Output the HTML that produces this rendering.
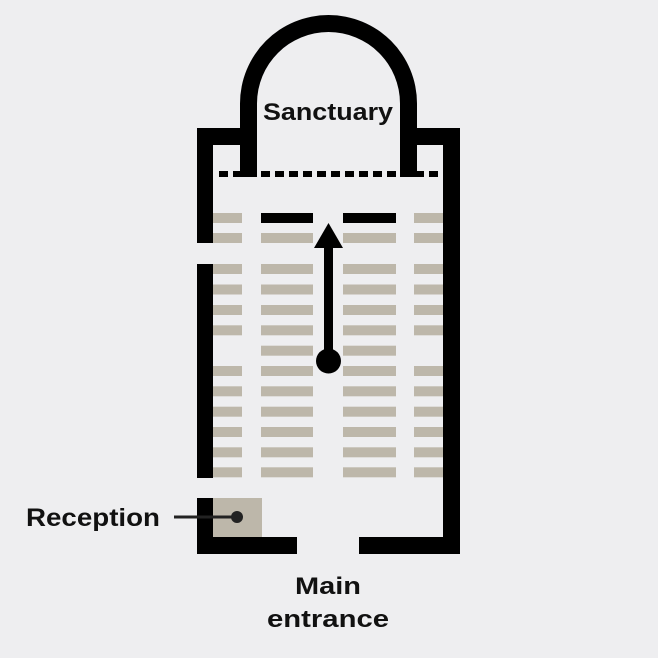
<!DOCTYPE html>
<html>
<head>
<meta charset="utf-8">
<style>
  html,body{margin:0;padding:0;background:#eeeef0;}
  svg{display:block;}
  text{font-family:"Liberation Sans",sans-serif;font-weight:bold;fill:#111;}
</style>
</head>
<body>
<svg width="658" height="658" viewBox="0 0 658 658" xmlns="http://www.w3.org/2000/svg">
  <rect width="658" height="658" fill="#eeeef0"/>

  <!-- pews -->
  <g fill="#bdb7aa">
    <!-- rows y list -->
    <!-- col1 x213-242, col2 261-313, col3 343-396, col4 414-443 -->
    <rect x="213" y="213" width="29" height="10"/>
    <rect x="414" y="213" width="29" height="10"/>
    <rect x="213" y="233" width="29" height="10"/><rect x="261" y="233" width="52" height="10"/><rect x="343" y="233" width="53" height="10"/><rect x="414" y="233" width="29" height="10"/>
    <rect x="213" y="264" width="29" height="10"/><rect x="261" y="264" width="52" height="10"/><rect x="343" y="264" width="53" height="10"/><rect x="414" y="264" width="29" height="10"/>
    <rect x="213" y="284.5" width="29" height="10"/><rect x="261" y="284.5" width="52" height="10"/><rect x="343" y="284.5" width="53" height="10"/><rect x="414" y="284.5" width="29" height="10"/>
    <rect x="213" y="305" width="29" height="10"/><rect x="261" y="305" width="52" height="10"/><rect x="343" y="305" width="53" height="10"/><rect x="414" y="305" width="29" height="10"/>
    <rect x="213" y="325.3" width="29" height="10"/><rect x="261" y="325.3" width="52" height="10"/><rect x="343" y="325.3" width="53" height="10"/><rect x="414" y="325.3" width="29" height="10"/>
    <rect x="261" y="345.7" width="52" height="10"/><rect x="343" y="345.7" width="53" height="10"/>
    <rect x="213" y="366" width="29" height="10"/><rect x="261" y="366" width="52" height="10"/><rect x="343" y="366" width="53" height="10"/><rect x="414" y="366" width="29" height="10"/>
    <rect x="213" y="386.3" width="29" height="10"/><rect x="261" y="386.3" width="52" height="10"/><rect x="343" y="386.3" width="53" height="10"/><rect x="414" y="386.3" width="29" height="10"/>
    <rect x="213" y="406.7" width="29" height="10"/><rect x="261" y="406.7" width="52" height="10"/><rect x="343" y="406.7" width="53" height="10"/><rect x="414" y="406.7" width="29" height="10"/>
    <rect x="213" y="427" width="29" height="10"/><rect x="261" y="427" width="52" height="10"/><rect x="343" y="427" width="53" height="10"/><rect x="414" y="427" width="29" height="10"/>
    <rect x="213" y="447.3" width="29" height="10"/><rect x="261" y="447.3" width="52" height="10"/><rect x="343" y="447.3" width="53" height="10"/><rect x="414" y="447.3" width="29" height="10"/>
    <rect x="213" y="467.3" width="29" height="10"/><rect x="261" y="467.3" width="52" height="10"/><rect x="343" y="467.3" width="53" height="10"/><rect x="414" y="467.3" width="29" height="10"/>
    <!-- reception box -->
    <rect x="213" y="498" width="49" height="39"/>
  </g>

  <!-- black front pews -->
  <rect x="261" y="213" width="52" height="10" fill="#000"/>
  <rect x="343" y="213" width="53" height="10" fill="#000"/>

  <!-- dashed line -->
  <g fill="#000">
    <rect x="219" y="171" width="9" height="6"/>
    <rect x="233" y="171" width="9" height="6"/>
    <rect x="247" y="171" width="9" height="6"/>
    <rect x="261" y="171" width="9" height="6"/>
    <rect x="275" y="171" width="9" height="6"/>
    <rect x="289" y="171" width="9" height="6"/>
    <rect x="303" y="171" width="9" height="6"/>
    <rect x="317" y="171" width="9" height="6"/>
    <rect x="331" y="171" width="9" height="6"/>
    <rect x="345" y="171" width="9" height="6"/>
    <rect x="359" y="171" width="9" height="6"/>
    <rect x="373" y="171" width="9" height="6"/>
    <rect x="387" y="171" width="9" height="6"/>
    <rect x="401" y="171" width="9" height="6"/>
    <rect x="415" y="171" width="9" height="6"/>
    <rect x="429" y="171" width="9" height="6"/>
  </g>

  <!-- walls -->
  <g fill="#000">
    <path d="M240,177 V103.5 A88.5,88.5 0 0 1 417,103.5 V177 H400 V103.5 A71.5,71.5 0 0 0 257,103.5 V177 Z"/>
    <rect x="197" y="128" width="45" height="17"/>
    <rect x="415" y="128" width="45" height="17"/>
    <rect x="197" y="128" width="16" height="115"/>
    <rect x="197" y="264" width="16" height="214"/>
    <rect x="443" y="128" width="17" height="426"/>
    <rect x="197" y="498" width="16" height="56"/>
    <rect x="197" y="537" width="100" height="17"/>
    <rect x="359" y="537" width="101" height="17"/>
  </g>

  <!-- arrow -->
  <rect x="324" y="245" width="9" height="116" fill="#000"/>
  <polygon points="328.5,223 343,248 314,248" fill="#000"/>
  <circle cx="328.5" cy="361" r="12.5" fill="#000"/>

  <!-- reception pointer -->
  <line x1="174" y1="517" x2="237" y2="517" stroke="#222" stroke-width="3"/>
  <circle cx="237" cy="517" r="6" fill="#222"/>

  <!-- labels -->
  <text x="263" y="120" font-size="24" textLength="130" lengthAdjust="spacingAndGlyphs">Sanctuary</text>
  <text x="26" y="526" font-size="25" textLength="134" lengthAdjust="spacingAndGlyphs">Reception</text>
  <text x="295" y="594" font-size="24" textLength="66" lengthAdjust="spacingAndGlyphs">Main</text>
  <text x="267" y="627" font-size="24" textLength="122" lengthAdjust="spacingAndGlyphs">entrance</text>
</svg>
</body>
</html>
